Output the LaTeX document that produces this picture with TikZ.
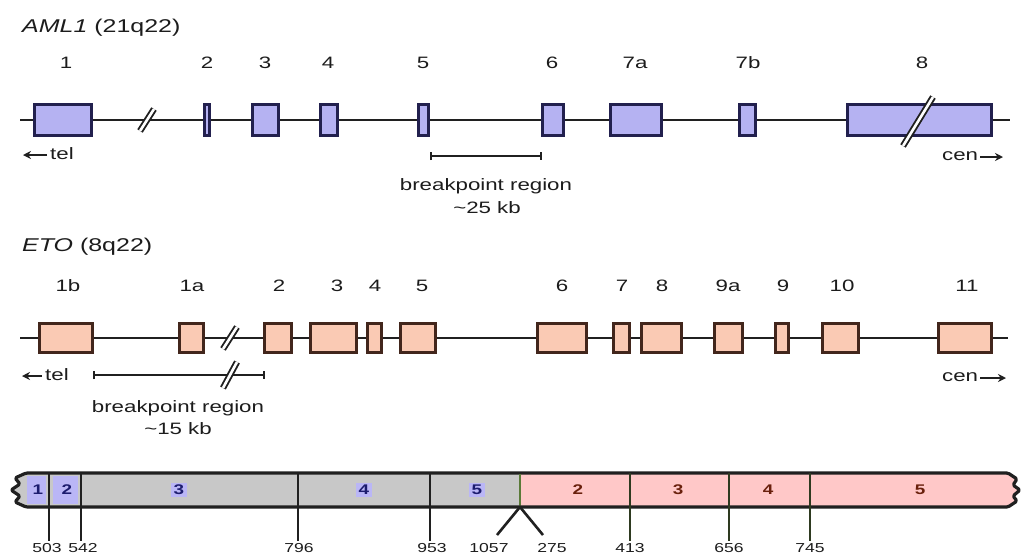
\documentclass[tikz,border=0pt]{standalone}
\usepackage{fontspec}
\setmainfont{Liberation Sans}
\newfontfamily\wide{Liberation Sans}[FakeStretch=1.35]
\usetikzlibrary{arrows.meta}

\definecolor{aFill}{RGB}{181,178,242}
\definecolor{aBorder}{RGB}{34,32,78}
\definecolor{eFill}{RGB}{250,202,180}
\definecolor{eBorder}{RGB}{66,38,28}
\definecolor{lineC}{RGB}{32,32,32}
\definecolor{txtC}{RGB}{28,28,28}
\definecolor{barGray}{RGB}{200,200,200}
\definecolor{barPink}{RGB}{255,200,200}
\definecolor{labLav}{RGB}{186,182,246}
\definecolor{segBlue}{RGB}{28,28,110}
\definecolor{segBrown}{RGB}{105,32,12}
\definecolor{divGreen}{RGB}{46,58,32}
\definecolor{junGreen}{RGB}{90,122,56}

\begin{document}
\begin{tikzpicture}[x=1pt,y=-1pt,
  gline/.style={draw=lineC, line width=2.6pt},
  exA/.style={draw=aBorder, fill=aFill, line width=3pt, inner sep=0pt, minimum height=31pt},
  exE/.style={draw=eBorder, fill=eFill, line width=3pt, inner sep=0pt, minimum height=29pt},
  lab/.style={font=\wide\fontsize{16.5}{19}\selectfont, text=txtC, inner sep=0pt},
  ttl/.style={font=\wide\fontsize{18.5}{21}\selectfont, text=txtC, inner sep=0pt, anchor=west},
  bptext/.style={font=\wide\fontsize{16.5}{20}\selectfont, text=txtC, inner sep=0pt, align=center},
  brk/.style={draw=lineC, line width=1.9pt, double=white, double distance=2.6pt},
  bpbar/.style={draw=lineC, line width=2.1pt, {Bar[width=8pt]}-{Bar[width=8pt]}},
  dirarrow/.style={draw=lineC, line width=2pt, -{Stealth[length=8pt,width=8pt]}},
  barline/.style={draw=lineC, line width=3.2pt, line join=round},
  tick/.style={draw=lineC, line width=2.6pt},
  gtick/.style={draw=divGreen, line width=2.6pt},
  num/.style={font=\wide\fontsize{13}{15}\selectfont, text=txtC, inner sep=2pt},
  segA/.style={font=\wide\bfseries\fontsize{14}{16}\selectfont, text=segBlue, inner sep=2.5pt},
  segE/.style={font=\wide\bfseries\fontsize{14}{16}\selectfont, text=segBrown, inner sep=2.5pt}
]
\useasboundingbox[fill=white] (0,0) rectangle (1021,558);

% ---------------- AML1 ----------------
\node[ttl] (aT) at (22,28) {\textit{AML1} (21q22)};
\coordinate (aL) at (20,120);
\coordinate (aR) at (1010,120);
\draw[gline] (aL) -- (aR);
\draw[brk] (140,131) -- (154,109);

\node[exA, minimum width=57pt]  (a1)  at (63,120) {};
\node[exA, minimum width=5pt]   (a2)  at (207,120) {};
\node[exA, minimum width=26pt]  (a3)  at (265.5,120) {};
\node[exA, minimum width=17pt]  (a4)  at (329,120) {};
\node[exA, minimum width=10pt]  (a5)  at (423.5,120) {};
\node[exA, minimum width=21pt]  (a6)  at (553,120) {};
\node[exA, minimum width=51pt]  (a7a) at (636,120) {};
\node[exA, minimum width=16pt]  (a7b) at (747.5,120) {};
\node[exA, minimum width=144pt] (a8)  at (919.5,120) {};
\draw[brk] (903,146) -- (933,97);

\node[lab] (la1)  at (66,63)  {1};
\node[lab] (la2)  at (207,63) {2};
\node[lab] (la3)  at (265,63) {3};
\node[lab] (la4)  at (328,63) {4};
\node[lab] (la5)  at (423,63) {5};
\node[lab] (la6)  at (552,63) {6};
\node[lab] (la7a) at (635,63) {7a};
\node[lab] (la7b) at (748,63) {7b};
\node[lab] (la8)  at (922,63) {8};

\node[lab, anchor=west] (aTel) at (50,154) {tel};
\coordinate (aTelA) at (23,155);
\draw[dirarrow] (aTel.west) ++(-3,1) -- (aTelA);
\node[lab, anchor=west] (aCen) at (942,156) {cen};
\coordinate (aCenA) at (1003,157);
\draw[dirarrow] (aCen.east) ++(2,1) -- (aCenA);

\coordinate (aBp1) at (430,156);
\coordinate (aBp2) at (542,156);
\draw[bpbar] (aBp1) -- (aBp2);
\node[bptext] (aBpT) at (486,186) {breakpoint region};
\node[bptext] (aBpK) at (487,208) {\textasciitilde25 kb};

% ---------------- ETO ----------------
\node[ttl] (eT) at (22,247) {\textit{ETO} (8q22)};
\coordinate (eL) at (20,338);
\coordinate (eR) at (1008,338);
\draw[gline] (eL) -- (eR);
\draw[brk] (223,349) -- (237,327);

\node[exE, minimum width=53pt] (e1b) at (66,338) {};
\node[exE, minimum width=24pt] (e1a) at (191.5,338) {};
\node[exE, minimum width=27pt] (e2)  at (278,338) {};
\node[exE, minimum width=46pt] (e3)  at (333.5,338) {};
\node[exE, minimum width=14pt] (e4)  at (374.5,338) {};
\node[exE, minimum width=35pt] (e5)  at (418,338) {};
\node[exE, minimum width=49pt] (e6)  at (562,338) {};
\node[exE, minimum width=16pt] (e7)  at (621.5,338) {};
\node[exE, minimum width=40pt] (e8)  at (661.5,338) {};
\node[exE, minimum width=28pt] (e9a) at (728.5,338) {};
\node[exE, minimum width=13pt] (e9)  at (782,338) {};
\node[exE, minimum width=36pt] (e10) at (840.5,338) {};
\node[exE, minimum width=53pt] (e11) at (965,338) {};

\node[lab] (le1b) at (68,286)  {1b};
\node[lab] (le1a) at (192,286) {1a};
\node[lab] (le2)  at (279,286) {2};
\node[lab] (le3)  at (337,286) {3};
\node[lab] (le4)  at (375,286) {4};
\node[lab] (le5)  at (422,286) {5};
\node[lab] (le6)  at (562,286) {6};
\node[lab] (le7)  at (622,286) {7};
\node[lab] (le8)  at (662,286) {8};
\node[lab] (le9a) at (728,286) {9a};
\node[lab] (le9)  at (783,286) {9};
\node[lab] (le10) at (842,286) {10};
\node[lab] (le11) at (967,286) {11};

\node[lab, anchor=west] (eTel) at (45,375) {tel};
\coordinate (eTelA) at (22,376);
\draw[dirarrow] (eTel.west) ++(-3,1) -- (eTelA);
\node[lab, anchor=west] (eCen) at (942,377) {cen};
\coordinate (eCenA) at (1006,378);
\draw[dirarrow] (eCen.east) ++(2,1) -- (eCenA);

\coordinate (eBp1) at (93,375);
\coordinate (eBp2) at (265,375);
\draw[bpbar] (eBp1) -- (eBp2);
\draw[brk] (223,388) -- (237,362);
\node[bptext] (eBpT) at (178,408) {breakpoint region};
\node[bptext] (eBpK) at (178,429) {\textasciitilde15 kb};

% ---------------- fusion transcript bar ----------------
\fill[barGray, rounded corners=1.5pt] (26,473) -- (520,473) -- (520,507) -- (26,507)
   -- (15,502) -- (20,496) -- (11,490) -- (20,484) -- (15,478) -- cycle;
\fill[barPink, rounded corners=1.5pt] (520,473) -- (1008,473) -- (1017,479) -- (1013,485)
   -- (1020,490) -- (1013,496) -- (1017,501) -- (1008,507) -- (520,507) -- cycle;
\fill[labLav] (27,476) rectangle (46,504);
\fill[labLav] (53,476) rectangle (78,504);
\draw[barline, rounded corners=1.5pt] (26,473) -- (1008,473) -- (1017,479) -- (1013,485)
   -- (1020,490) -- (1013,496) -- (1017,501) -- (1008,507) -- (26,507)
   -- (15,502) -- (20,496) -- (11,490) -- (20,484) -- (15,478) -- cycle;

\node[segA] (s1) at (38,490) {1};
\node[segA] (s2) at (67,490) {2};
\node[segA, fill=labLav] (s3) at (179,490) {3};
\node[segA, fill=labLav] (s4) at (364,490) {4};
\node[segA, fill=labLav] (s5) at (477,490) {5};
\node[segE] (p2) at (578,490) {2};
\node[segE] (p3) at (678,490) {3};
\node[segE] (p4) at (768,490) {4};
\node[segE] (p5) at (920,490) {5};

\node[num] (n503)  at (47,548)  {503};
\node[num] (n542)  at (83,548)  {542};
\node[num] (n796)  at (299,548) {796};
\node[num] (n953)  at (432,548) {953};
\node[num] (n1057) at (489,548) {1057};
\node[num] (n275)  at (552,548) {275};
\node[num] (n413)  at (630,548) {413};
\node[num] (n656)  at (729,548) {656};
\node[num] (n745)  at (810,548) {745};

\coordinate (d503) at (49,473);
\coordinate (d542) at (81,473);
\coordinate (d796) at (298,473);
\coordinate (d953) at (430,473);
\coordinate (d413) at (630,473);
\coordinate (d656) at (729,473);
\coordinate (d745) at (810,473);
\draw[tick] (d503) -- (d503 |- n503.north);
\draw[tick] (d542) -- (d542 |- n542.north);
\draw[tick] (d796) -- (d796 |- n796.north);
\draw[tick] (d953) -- (d953 |- n953.north);
\draw[gtick] (d413) -- (d413 |- n413.north);
\draw[gtick] (d656) -- (d656 |- n656.north);
\draw[gtick] (d745) -- (d745 |- n745.north);

\coordinate (jTop) at (520,474);
\coordinate (jBot) at (520,507);
\coordinate (v1) at (497,535);
\coordinate (v2) at (543,535);
\draw[draw=junGreen, line width=2.6pt] (jTop) -- (jBot);
\draw[tick] (v1) -- (jBot) -- (v2);
\end{tikzpicture}
\end{document}
